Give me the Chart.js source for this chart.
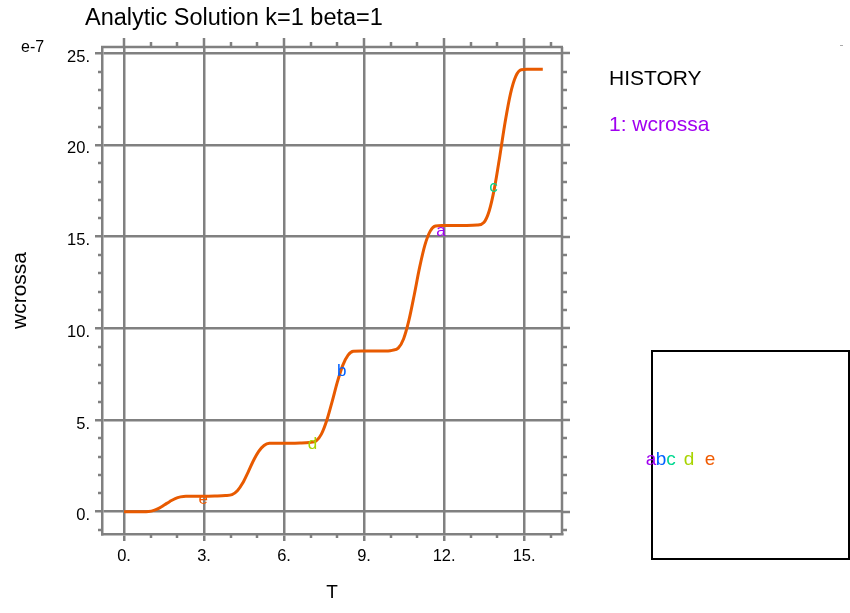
<!DOCTYPE html>
<html><head><meta charset="utf-8">
<script src="https://cdn.jsdelivr.net/npm/chart.js@4.4.1/dist/chart.umd.min.js"></script>
<style>html,body{margin:0;padding:0;background:#fff;}canvas{display:block}</style>
</head><body>
<canvas id="c" width="850" height="613"></canvas>
<script>
// ---- data ----
const timeT = [0,0.5,0.7,0.92,1.12,1.32,1.52,1.72,1.92,2.12,
  2.32,2.6,3.0,3.4,3.8,4.05,4.25,4.45,4.65,4.85,
  5.05,5.25,5.45,5.7,6.2,6.6,6.95,7.2,7.4,7.6,
  7.8,8.0,8.2,8.4,8.6,8.9,9.4,9.9,10.05,10.28,
  10.48,10.68,10.88,11.08,11.28,11.48,11.68,11.9,12.3,12.8,
  13.24,13.49,13.69,13.89,14.09,14.29,14.49,14.69,14.89,15.1,
  15.4,15.7];
const wcrossa = [0,0,0,0.014,0.077,0.2,0.38,0.56,0.72,0.81,
  0.85,0.85,0.85,0.86,0.88,0.93,1.14,1.56,2.15,2.78,
  3.29,3.61,3.73,3.74,3.74,3.75,3.78,3.86,4.23,4.97,
  5.99,7.08,7.98,8.54,8.75,8.76,8.76,8.77,8.8,8.92,
  9.42,10.43,11.82,13.31,14.54,15.3,15.58,15.6,15.6,15.61,
  15.63,15.77,16.4,17.66,19.4,21.26,22.8,23.75,24.1,24.12,
  24.12,24.12];
const xTicks = [0,3,6,9,12,15];
const yTicks = [0,5,10,15,20,25];
const markerLetters = ['a','b','c','d','e'];
const markerT = [11.88, 8.16, 13.85, 7.07, 2.97];
const markerW = [15.3, 7.63, 17.7, 3.65, 0.65];
const markerColors = ['#a000f0','#0060ff','#00d890','#a8d400','#f05a00'];
const chartTitle = 'Analytic Solution k=1 beta=1';
const xTitle = 'T';
const yTitle = 'wcrossa';
const exponentLabel = 'e-7';
const historyTitle = 'HISTORY';
const seriesName = '1: wcrossa';

const FONT = "'Liberation Sans', Arial, sans-serif";
const GRID = '#808080';
const LW = 2.5;

const decorPlugin = {
  id: 'decor',
  afterDatasetsDraw(chart) {
    const ctx = chart.ctx, xs = chart.scales.x, ys = chart.scales.y;
    ctx.save();
    ctx.font = '17px ' + FONT;
    ctx.textAlign = 'center';
    ctx.textBaseline = 'middle';
    markerLetters.forEach((l, i) => {
      ctx.fillStyle = markerColors[i];
      ctx.fillText(l, xs.getPixelForValue(markerT[i]), ys.getPixelForValue(markerW[i]));
    });
    ctx.restore();
  },
  afterDraw(chart) {
    const ctx = chart.ctx, xs = chart.scales.x, ys = chart.scales.y;
    const a = chart.chartArea;
    ctx.save();
    ctx.strokeStyle = GRID;
    ctx.lineWidth = LW;
    ctx.beginPath();
    for (let v = Math.ceil(xs.min); v <= xs.max; v++) {
      const px = Math.round(xs.getPixelForValue(v));
      const major = v % 3 === 0;
      if (!major) { ctx.moveTo(px, a.bottom); ctx.lineTo(px, a.bottom + 4); }
      ctx.moveTo(px, a.top); ctx.lineTo(px, a.top - (major ? 9 : 5));
    }
    for (let v = Math.ceil(ys.min); v <= ys.max; v++) {
      const py = Math.round(ys.getPixelForValue(v));
      const major = v % 5 === 0;
      if (!major) { ctx.moveTo(a.left, py); ctx.lineTo(a.left - 4, py); }
      ctx.moveTo(a.right, py); ctx.lineTo(a.right + (major ? 8 : 5), py);
    }
    ctx.stroke();
    ctx.beginPath();
    ctx.moveTo(a.left - 1, a.top); ctx.lineTo(a.right + 1, a.top);
    ctx.moveTo(a.right, a.top); ctx.lineTo(a.right, a.bottom + 1);
    ctx.stroke();

    ctx.textBaseline = 'alphabetic';
    ctx.textAlign = 'left';
    ctx.fillStyle = '#000';
    ctx.font = '23.5px ' + FONT;
    ctx.fillText(chartTitle, 85, 25);
    ctx.font = '16px ' + FONT;
    ctx.fillText(exponentLabel, 21, 52);
    ctx.font = '21px ' + FONT;
    ctx.fillText(historyTitle, 609, 85);
    ctx.fillStyle = markerColors[0];
    ctx.fillText(seriesName, 609, 131);
    ctx.fillStyle = '#aaa';
    ctx.fillRect(840, 45, 3, 1);
    ctx.strokeStyle = '#000';
    ctx.lineWidth = 2;
    ctx.strokeRect(652, 351, 197, 208);
    ctx.font = '19px ' + FONT;
    ctx.textAlign = 'center';
    const lx = [651, 661, 671, 689, 710];
    markerLetters.forEach((l, i) => {
      ctx.fillStyle = markerColors[i];
      ctx.fillText(l, lx[i], 465);
    });
    ctx.restore();
  }
};

new Chart(document.getElementById('c'), {
  type: 'scatter',
  data: {
    datasets: [{
      label: seriesName,
      data: timeT.map((t, i) => ({x: t, y: wcrossa[i]})),
      showLine: true,
      borderColor: '#e85a00',
      borderWidth: 3,
      pointRadius: 0,
      cubicInterpolationMode: 'monotone',
      fill: false
    }]
  },
  options: {
    responsive: false,
    animation: false,
    devicePixelRatio: 1,
    layout: {padding: {left: 0, right: 288, top: 47, bottom: 0}},
    plugins: {legend: {display: false}, tooltip: {enabled: false}, title: {display: false}},
    scales: {
      x: {
        type: 'linear', min: -0.825, max: 16.42,
        afterFit: s => { s.height = 79; },
        afterBuildTicks: s => { s.ticks = xTicks.map(v => ({value: v})); },
        ticks: {callback: v => v + '.', color: '#000', font: {family: FONT, size: 16.5}, padding: 6, maxRotation: 0, autoSkip: false},
        grid: {color: GRID, lineWidth: LW, tickLength: 7, drawTicks: true},
        border: {color: GRID, width: LW},
        title: {display: true, text: xTitle, color: '#000', font: {family: FONT, size: 19}, padding: {top: 0, bottom: 9}}
      },
      y: {
        type: 'linear', min: -1.215, max: 25.34,
        afterFit: s => { s.width = 102; },
        afterBuildTicks: s => { s.ticks = yTicks.map(v => ({value: v})); },
        ticks: {callback: v => v + '.', color: '#000', font: {family: FONT, size: 16.5}, padding: 5, labelOffset: 4, autoSkip: false},
        grid: {color: GRID, lineWidth: LW, tickLength: 7, drawTicks: true},
        border: {color: GRID, width: LW},
        title: {display: true, text: yTitle, color: '#000', font: {family: FONT, size: 21}, padding: {top: 8, bottom: 0}}
      }
    }
  },
  plugins: [decorPlugin]
});
</script>
</body></html>
